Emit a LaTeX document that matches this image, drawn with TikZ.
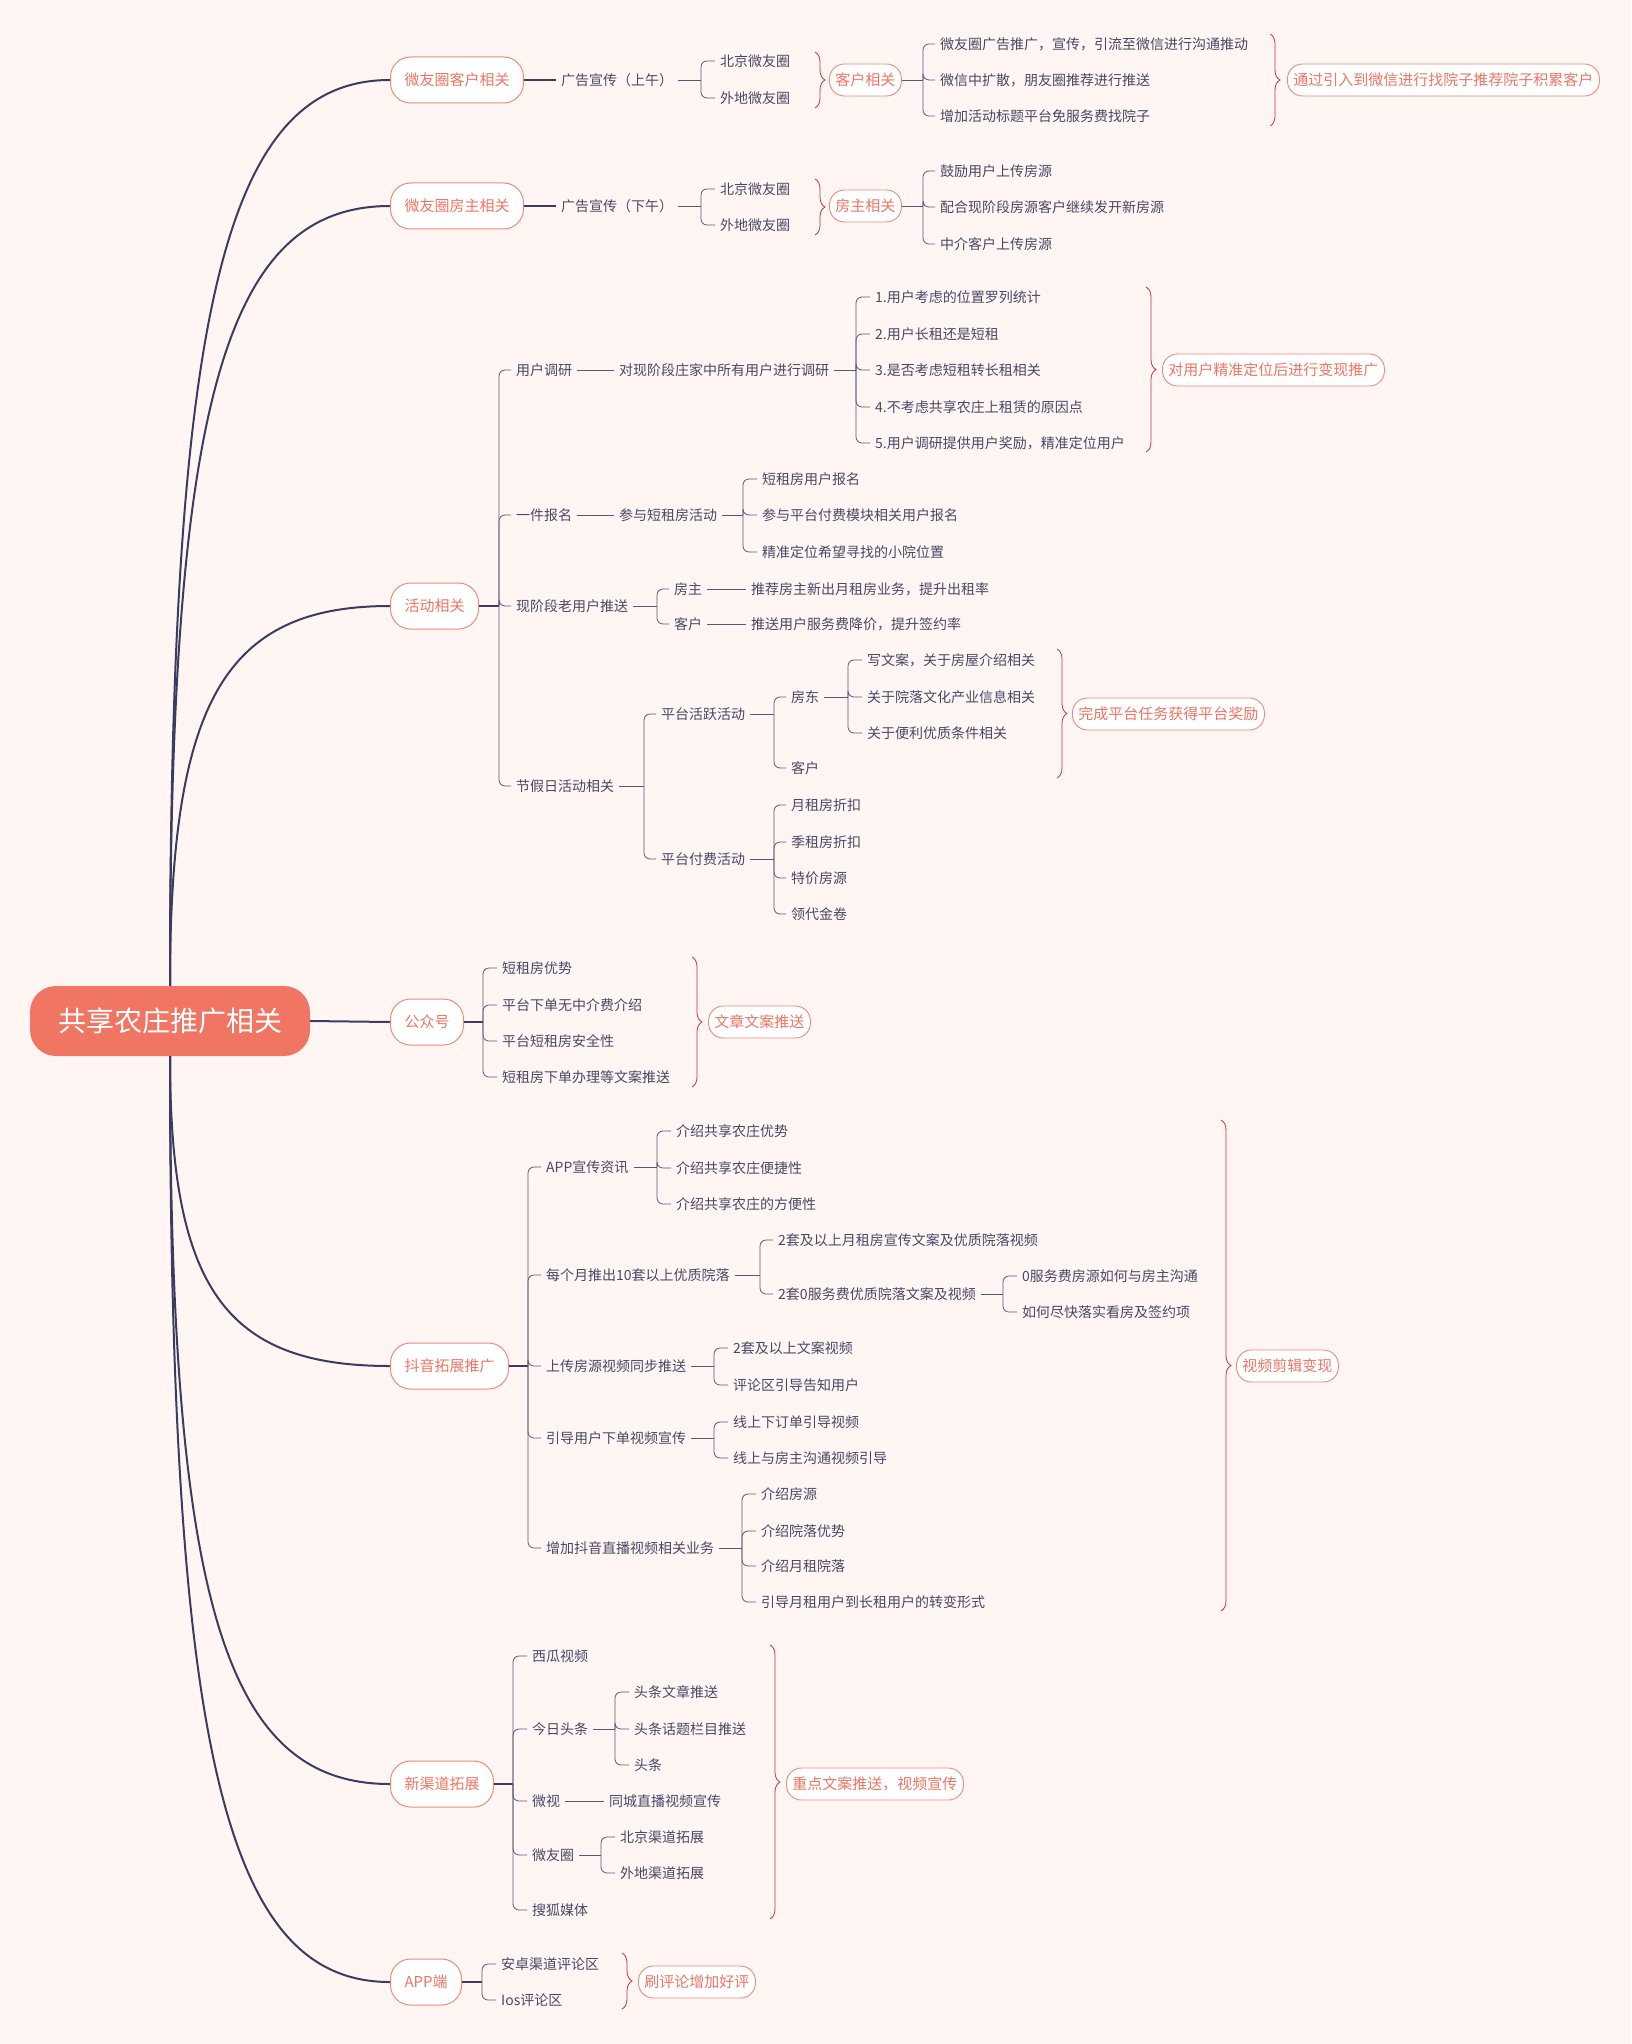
\documentclass[tikz,border=0pt]{standalone}
\usepackage{fontspec}
\setmainfont{Noto Sans CJK SC}
\usetikzlibrary{decorations.pathreplacing}
\definecolor{bgpink}{RGB}{255,246,244}
\definecolor{coral}{RGB}{240,117,99}
\definecolor{navy}{RGB}{58,60,98}
\definecolor{inkgray}{RGB}{72,72,102}
\definecolor{bracered}{RGB}{196,52,52}
\tikzset{
  centre/.style={fill=coral, text=white, rounded corners=26pt, minimum width=280pt, minimum height=70pt, font=\fontsize{28}{30}\selectfont},
  topicbox/.style={anchor=west, draw=coral!85, line width=1pt, fill=white, text=coral, rounded corners=20pt, minimum height=46pt, inner xsep=14pt, font=\fontsize{15}{17}\selectfont},
  sumbox/.style={anchor=west, draw=coral!85, line width=0.9pt, fill=white, text=coral, rounded corners=15pt, minimum height=32pt, inner xsep=6pt, font=\fontsize{15}{17}\selectfont},
  leaftext/.style={anchor=west, text=inkgray, inner xsep=5pt, inner ysep=2pt, font=\fontsize{14}{16}\selectfont},
  trunk/.style={draw=navy, line width=2pt},
  limb/.style={draw=navy, line width=1.5pt},
  twig/.style={draw=navy!85, line width=0.8pt, rounded corners=6pt},
  rbrace/.style={draw=bracered, line width=0.8pt, decorate, decoration={brace, amplitude=10pt}}
}
\begin{document}
\begin{tikzpicture}[x=1pt,y=-1pt]
        %\draw [help lines, step=100] (0,0) grid (1631,2044);
        \fill [bgpink] (0,0) rectangle (1631,2044);
        \useasboundingbox (0,0) rectangle (1631,2044);

        % root and main topics
        \node [centre] (hub) at (170,1021) {共享农庄推广相关};
        \node [topicbox] (t1) at (390,80) {微友圈客户相关};
        \node [topicbox] (t2) at (390,206) {微友圈房主相关};
        \node [topicbox] (t3) at (390,606) {活动相关};
        \node [topicbox] (t4) at (390,1022) {公众号};
        \node [topicbox] (t5) at (390,1366) {抖音拓展推广};
        \node [topicbox] (t6) at (390,1784) {新渠道拓展};
        \node [topicbox] (t7) at (390,1982) {APP端};

        \draw [trunk] (hub.north) .. controls (170,307) and (225,80) .. (t1.west);
        \draw [trunk] (hub.north) .. controls (170,402) and (225,206) .. (t2.west);
        \draw [trunk] (hub.north) .. controls (170,701) and (225,606) .. (t3.west);
        \draw [trunk] (hub.east) -- (t4.west);
        \draw [trunk] (hub.south) .. controls (170,1288) and (225,1366) .. (t5.west);
        \draw [trunk] (hub.south) .. controls (170,1602) and (225,1784) .. (t6.west);
        \draw [trunk] (hub.south) .. controls (170,1750) and (225,1982) .. (t7.west);

        % 微友圈客户相关
        \node [leaftext] (g1) at (556,80) {广告宣传（上午）};
        \draw [limb] (t1.east) -- (g1.west);
        \coordinate (k1) at (701,80);
        \node [leaftext] (g1a) at (715,61) {北京微友圈};
        \node [leaftext] (g1b) at (715,98) {外地微友圈};
        \draw [twig] (g1.east) -- (k1);
        \foreach \c in {g1a,g1b} \draw [twig] (k1) |- (\c.west);
        \coordinate (b1t) at (815,52);
        \coordinate (b1b) at (815,108);
        \draw [rbrace] (b1t) -- (b1b);
        \node [sumbox] (m1) at (829,80) {客户相关};
        \coordinate (k2) at (923,80);
        \node [leaftext] (m1a) at (935,44) {微友圈广告推广，宣传，引流至微信进行沟通推动};
        \node [leaftext] (m1b) at (935,80) {微信中扩散，朋友圈推荐进行推送};
        \node [leaftext] (m1c) at (935,116) {增加活动标题平台免服务费找院子};
        \draw [twig] (m1.east) -- (k2);
        \foreach \c in {m1a,m1b,m1c} \draw [twig] (k2) |- (\c.west);
        \coordinate (b2t) at (1270,34);
        \coordinate (b2b) at (1270,126);
        \draw [rbrace] (b2t) -- (b2b);
        \node [sumbox] (m2) at (1287,80) {通过引入到微信进行找院子推荐院子积累客户};

        % 微友圈房主相关
        \node [leaftext] (g2) at (556,206) {广告宣传（下午）};
        \draw [limb] (t2.east) -- (g2.west);
        \coordinate (k3) at (701,206);
        \node [leaftext] (g2a) at (715,189) {北京微友圈};
        \node [leaftext] (g2b) at (715,225) {外地微友圈};
        \draw [twig] (g2.east) -- (k3);
        \foreach \c in {g2a,g2b} \draw [twig] (k3) |- (\c.west);
        \coordinate (b3t) at (815,179);
        \coordinate (b3b) at (815,235);
        \draw [rbrace] (b3t) -- (b3b);
        \node [sumbox] (m3) at (829,206) {房主相关};
        \coordinate (k4) at (923,206);
        \node [leaftext] (m3a) at (935,171) {鼓励用户上传房源};
        \node [leaftext] (m3b) at (935,207) {配合现阶段房源客户继续发开新房源};
        \node [leaftext] (m3c) at (935,244) {中介客户上传房源};
        \draw [twig] (m3.east) -- (k4);
        \foreach \c in {m3a,m3b,m3c} \draw [twig] (k4) |- (\c.west);

        % 活动相关
        \coordinate (k5) at (499,606);
        \draw [limb] (t3.east) -- (k5);
        \node [leaftext] (h1) at (511,370) {用户调研};
        \node [leaftext] (h2) at (511,515) {一件报名};
        \node [leaftext] (h3) at (511,606) {现阶段老用户推送};
        \node [leaftext] (h4) at (511,786) {节假日活动相关};
        \foreach \c in {h1,h2,h3,h4} \draw [twig] (k5) |- (\c.west);

        \node [leaftext] (h1a) at (614,370) {对现阶段庄家中所有用户进行调研};
        \draw [twig] (h1.east) -- (h1a.west);
        \coordinate (k6) at (856,370);
        \draw [twig] (h1a.east) -- (k6);
        \node [leaftext] (u1) at (870,297) {1.用户考虑的位置罗列统计};
        \node [leaftext] (u2) at (870,334) {2.用户长租还是短租};
        \node [leaftext] (u3) at (870,370) {3.是否考虑短租转长租相关};
        \node [leaftext] (u4) at (870,407) {4.不考虑共享农庄上租赁的原因点};
        \node [leaftext] (u5) at (870,443) {5.用户调研提供用户奖励，精准定位用户};
        \foreach \c in {u1,u2,u3,u4,u5} \draw [twig] (k6) |- (\c.west);
        \coordinate (b4t) at (1146,287);
        \coordinate (b4b) at (1146,452);
        \draw [rbrace] (b4t) -- (b4b);
        \node [sumbox] (m4) at (1162,370) {对用户精准定位后进行变现推广};

        \node [leaftext] (h2a) at (614,515) {参与短租房活动};
        \draw [twig] (h2.east) -- (h2a.west);
        \coordinate (k7) at (743,515);
        \draw [twig] (h2a.east) -- (k7);
        \node [leaftext] (p1) at (757,479) {短租房用户报名};
        \node [leaftext] (p2) at (757,515) {参与平台付费模块相关用户报名};
        \node [leaftext] (p3) at (757,552) {精准定位希望寻找的小院位置};
        \foreach \c in {p1,p2,p3} \draw [twig] (k7) |- (\c.west);

        \coordinate (k8) at (657,606);
        \draw [twig] (h3.east) -- (k8);
        \node [leaftext] (o1) at (669,589) {房主};
        \node [leaftext] (o2) at (669,624) {客户};
        \foreach \c in {o1,o2} \draw [twig] (k8) |- (\c.west);
        \node [leaftext] (o1a) at (746,589) {推荐房主新出月租房业务，提升出租率};
        \node [leaftext] (o2a) at (746,624) {推送用户服务费降价，提升签约率};
        \draw [twig] (o1.east) -- (o1a.west);
        \draw [twig] (o2.east) -- (o2a.west);

        \coordinate (k9) at (644,786);
        \draw [twig] (h4.east) -- (k9);
        \node [leaftext] (v1) at (656,714) {平台活跃活动};
        \node [leaftext] (v2) at (656,859) {平台付费活动};
        \foreach \c in {v1,v2} \draw [twig] (k9) |- (\c.west);
        \coordinate (k10) at (774,714);
        \draw [twig] (v1.east) -- (k10);
        \node [leaftext] (v1a) at (786,697) {房东};
        \node [leaftext] (v1b) at (786,768) {客户};
        \foreach \c in {v1a,v1b} \draw [twig] (k10) |- (\c.west);
        \coordinate (k11) at (848,697);
        \draw [twig] (v1a.east) -- (k11);
        \node [leaftext] (w1) at (862,660) {写文案，关于房屋介绍相关};
        \node [leaftext] (w2) at (862,697) {关于院落文化产业信息相关};
        \node [leaftext] (w3) at (862,733) {关于便利优质条件相关};
        \foreach \c in {w1,w2,w3} \draw [twig] (k11) |- (\c.west);
        \coordinate (b5t) at (1057,649);
        \coordinate (b5b) at (1057,778);
        \draw [rbrace] (b5t) -- (b5b);
        \node [sumbox] (m5) at (1072,714) {完成平台任务获得平台奖励};
        \coordinate (k12) at (774,859);
        \draw [twig] (v2.east) -- (k12);
        \node [leaftext] (x1) at (786,805) {月租房折扣};
        \node [leaftext] (x2) at (786,842) {季租房折扣};
        \node [leaftext] (x3) at (786,878) {特价房源};
        \node [leaftext] (x4) at (786,914) {领代金卷};
        \foreach \c in {x1,x2,x3,x4} \draw [twig] (k12) |- (\c.west);

        % 公众号
        \coordinate (k13) at (483,1022);
        \draw [limb] (t4.east) -- (k13);
        \node [leaftext] (q1) at (497,968) {短租房优势};
        \node [leaftext] (q2) at (497,1005) {平台下单无中介费介绍};
        \node [leaftext] (q3) at (497,1041) {平台短租房安全性};
        \node [leaftext] (q4) at (497,1077) {短租房下单办理等文案推送};
        \foreach \c in {q1,q2,q3,q4} \draw [twig] (k13) |- (\c.west);
        \coordinate (b6t) at (692,957);
        \coordinate (b6b) at (692,1087);
        \draw [rbrace] (b6t) -- (b6b);
        \node [sumbox] (m6) at (708,1022) {文章文案推送};

        % 抖音拓展推广
        \coordinate (k14) at (528,1366);
        \draw [limb] (t5.east) -- (k14);
        \node [leaftext] (d1) at (541,1167) {APP宣传资讯};
        \node [leaftext] (d2) at (541,1275) {每个月推出10套以上优质院落};
        \node [leaftext] (d3) at (541,1366) {上传房源视频同步推送};
        \node [leaftext] (d4) at (541,1438) {引导用户下单视频宣传};
        \node [leaftext] (d5) at (541,1548) {增加抖音直播视频相关业务};
        \foreach \c in {d1,d2,d3,d4,d5} \draw [twig] (k14) |- (\c.west);

        \coordinate (k15) at (657,1167);
        \draw [twig] (d1.east) -- (k15);
        \node [leaftext] (d1a) at (671,1131) {介绍共享农庄优势};
        \node [leaftext] (d1b) at (671,1168) {介绍共享农庄便捷性};
        \node [leaftext] (d1c) at (671,1204) {介绍共享农庄的方便性};
        \foreach \c in {d1a,d1b,d1c} \draw [twig] (k15) |- (\c.west);

        \coordinate (k16) at (760,1275);
        \draw [twig] (d2.east) -- (k16);
        \node [leaftext] (d2a) at (773,1240) {2套及以上月租房宣传文案及优质院落视频};
        \node [leaftext] (d2b) at (773,1294) {2套0服务费优质院落文案及视频};
        \foreach \c in {d2a,d2b} \draw [twig] (k16) |- (\c.west);
        \coordinate (k17) at (1003,1294);
        \draw [twig] (d2b.east) -- (k17);
        \node [leaftext] (d2c) at (1017,1276) {0服务费房源如何与房主沟通};
        \node [leaftext] (d2d) at (1017,1312) {如何尽快落实看房及签约项};
        \foreach \c in {d2c,d2d} \draw [twig] (k17) |- (\c.west);

        \coordinate (k18) at (714,1366);
        \draw [twig] (d3.east) -- (k18);
        \node [leaftext] (d3a) at (728,1348) {2套及以上文案视频};
        \node [leaftext] (d3b) at (728,1385) {评论区引导告知用户};
        \foreach \c in {d3a,d3b} \draw [twig] (k18) |- (\c.west);

        \coordinate (k19) at (714,1438);
        \draw [twig] (d4.east) -- (k19);
        \node [leaftext] (d4a) at (728,1422) {线上下订单引导视频};
        \node [leaftext] (d4b) at (728,1458) {线上与房主沟通视频引导};
        \foreach \c in {d4a,d4b} \draw [twig] (k19) |- (\c.west);

        \coordinate (k20) at (742,1548);
        \draw [twig] (d5.east) -- (k20);
        \node [leaftext] (d5a) at (756,1494) {介绍房源};
        \node [leaftext] (d5b) at (756,1531) {介绍院落优势};
        \node [leaftext] (d5c) at (756,1566) {介绍月租院落};
        \node [leaftext] (d5d) at (756,1602) {引导月租用户到长租用户的转变形式};
        \foreach \c in {d5a,d5b,d5c,d5d} \draw [twig] (k20) |- (\c.west);

        \coordinate (b7t) at (1221,1120);
        \coordinate (b7b) at (1221,1611);
        \draw [rbrace] (b7t) -- (b7b);
        \node [sumbox] (m7) at (1236,1366) {视频剪辑变现};

        % 新渠道拓展
        \coordinate (k21) at (513,1784);
        \draw [limb] (t6.east) -- (k21);
        \node [leaftext] (n1) at (527,1656) {西瓜视频};
        \node [leaftext] (n2) at (527,1729) {今日头条};
        \node [leaftext] (n3) at (527,1801) {微视};
        \node [leaftext] (n4) at (527,1855) {微友圈};
        \node [leaftext] (n5) at (527,1910) {搜狐媒体};
        \foreach \c in {n1,n2,n3,n4,n5} \draw [twig] (k21) |- (\c.west);
        \coordinate (k22) at (615,1729);
        \draw [twig] (n2.east) -- (k22);
        \node [leaftext] (n2a) at (629,1692) {头条文章推送};
        \node [leaftext] (n2b) at (629,1729) {头条话题栏目推送};
        \node [leaftext] (n2c) at (629,1765) {头条};
        \foreach \c in {n2a,n2b,n2c} \draw [twig] (k22) |- (\c.west);
        \node [leaftext] (n3a) at (604,1801) {同城直播视频宣传};
        \draw [twig] (n3.east) -- (n3a.west);
        \coordinate (k23) at (601,1855);
        \draw [twig] (n4.east) -- (k23);
        \node [leaftext] (n4a) at (615,1837) {北京渠道拓展};
        \node [leaftext] (n4b) at (615,1873) {外地渠道拓展};
        \foreach \c in {n4a,n4b} \draw [twig] (k23) |- (\c.west);
        \coordinate (b8t) at (770,1645);
        \coordinate (b8b) at (770,1919);
        \draw [rbrace] (b8t) -- (b8b);
        \node [sumbox] (m8) at (786,1784) {重点文案推送，视频宣传};

        % APP端
        \coordinate (k24) at (482,1982);
        \draw [limb] (t7.east) -- (k24);
        \node [leaftext] (e1) at (496,1964) {安卓渠道评论区};
        \node [leaftext] (e2) at (496,2000) {Ios评论区};
        \foreach \c in {e1,e2} \draw [twig] (k24) |- (\c.west);
        \coordinate (b9t) at (622,1953);
        \coordinate (b9b) at (622,2009);
        \draw [rbrace] (b9t) -- (b9b);
        \node [sumbox] (m9) at (638,1982) {刷评论增加好评};
\end{tikzpicture}
\end{document}
